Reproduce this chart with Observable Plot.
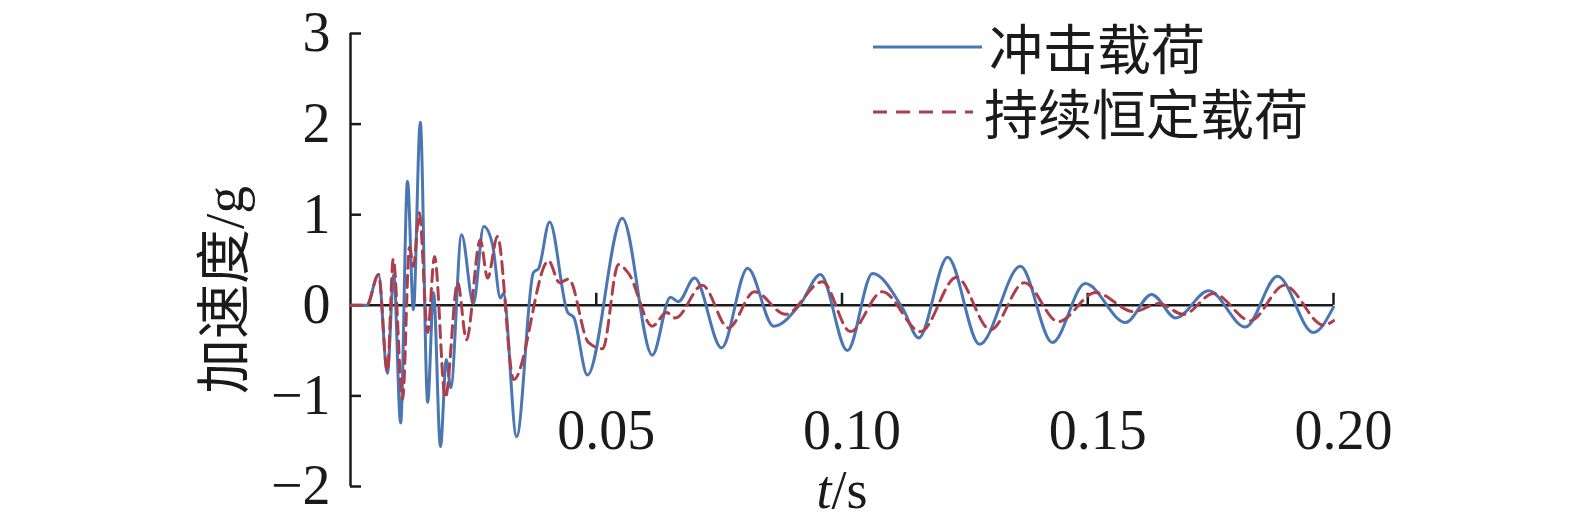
<!DOCTYPE html>
<html>
<head>
<meta charset="utf-8">
<script src="https://cdn.jsdelivr.net/npm/d3@7"></script>
<script src="https://cdn.jsdelivr.net/npm/@observablehq/plot@0.6"></script>
<style>
  body { margin: 0; background: #fff; }
  #wrap { position: relative; width: 1575px; height: 528px; overflow: hidden; }
  #legend { position: absolute; left: 873px; top: 14px; font-family: "Noto Sans CJK SC", sans-serif; font-size: 54px; color: #1a1a1a; }
  #legend .row { display: flex; align-items: center; height: 65px; }
  #legend .row span { line-height: 54px; display: block; }
  #legend svg { display: block; }
</style>
</head>
<body>
<div id="wrap"><div id="legend"></div></div>
<script>
// time (s) and acceleration (g) — 冲击载荷
const tImpact = [0, 0.0033, 0.0057, 0.0075, 0.0088, 0.0102, 0.0116, 0.0128, 0.0142, 0.0157, 0.0169, 0.0183, 0.0195, 0.0204, 0.0226, 0.0250, 0.0271, 0.0289, 0.0305, 0.0311, 0.0338, 0.0372, 0.0383, 0.0405, 0.0442, 0.0454, 0.0482, 0.0553, 0.0614, 0.0651, 0.0667, 0.0700, 0.0755, 0.0808, 0.0861, 0.0916, 0.0956, 0.1011, 0.1062, 0.1125, 0.1156, 0.1215, 0.1280, 0.1363, 0.1428, 0.1495, 0.1577, 0.1630, 0.1679, 0.1746, 0.1821, 0.1886, 0.1959, 0.2];
const vImpact = [0, 0, 0.34, -0.75, 0.34, -1.30, 1.37, -0.05, 2.02, -1.07, 0.14, -1.56, -0.60, -0.91, 0.78, 0.02, 0.87, 0.67, 0.08, 0.13, -1.45, 0.36, 0.41, 0.92, -0.08, -0.13, -0.77, 0.96, -0.55, 0.09, 0.04, 0.30, -0.47, 0.41, -0.23, 0.02, 0.34, -0.50, 0.35, -0.05, -0.36, 0.53, -0.43, 0.43, -0.41, 0.24, -0.19, 0.12, -0.14, 0.16, -0.24, 0.32, -0.30, -0.02];

// 持续恒定载荷
const tConst = [0, 0.0033, 0.0057, 0.0075, 0.0087, 0.0106, 0.0120, 0.0128, 0.0140, 0.0157, 0.0171, 0.0193, 0.0218, 0.0236, 0.0264, 0.0279, 0.0299, 0.0332, 0.0403, 0.0425, 0.0444, 0.0484, 0.0513, 0.0545, 0.0566, 0.0614, 0.0643, 0.0661, 0.0716, 0.0769, 0.0822, 0.0885, 0.0960, 0.1017, 0.1082, 0.1160, 0.1233, 0.1302, 0.1371, 0.1440, 0.1516, 0.1593, 0.1644, 0.1695, 0.1756, 0.1831, 0.1900, 0.1980, 0.2];
const vConst = [0, 0, 0.34, -0.73, 0.51, -1.04, 0.64, 0.43, 1.02, -0.30, 0.54, -1.02, 0.25, -0.38, 0.72, 0.30, 0.76, -0.82, 0.49, 0.25, 0.29, -0.41, -0.48, 0.45, 0.35, -0.23, -0.08, -0.14, 0.22, -0.25, 0.15, -0.10, 0.26, -0.29, 0.15, -0.29, 0.31, -0.27, 0.25, -0.18, 0.14, -0.07, 0.02, -0.10, 0.13, -0.17, 0.22, -0.22, -0.17];

const seriesNames = ["冲击载荷", "持续恒定载荷"];
const seriesColors = ["#4a76b4", "#ad3f4c"];
const xTicks = [0.05, 0.10, 0.15, 0.20];
const yTicks = [-2, -1, 0, 1, 2, 3];
const xLabel = "t/s";
const yLabel = "加速度/g";

const impact = tImpact.map((t, i) => ({t, v: vImpact[i]}));
const constant = tConst.map((t, i) => ({t, v: vConst[i]}));

const axisColor = "#1a1a1a";
const serif = "'Liberation Serif', 'Noto Sans CJK SC', serif";

const chart = Plot.plot({
  width: 1575,
  height: 528,
  marginLeft: 350,
  marginRight: 242,
  marginTop: 33,
  marginBottom: 42,
  x: {domain: [0, 0.2]},
  y: {domain: [-2, 3]},
  style: {fontFamily: serif, fontSize: "56px", color: axisColor, background: "white", overflow: "visible"},
  marks: [
    Plot.ruleX([0], {stroke: axisColor, strokeWidth: 2.5}),
    Plot.ruleY(yTicks, {y: d => d, x1: 0, x2: 0, insetRight: -11, stroke: axisColor, strokeWidth: 2.5}),
    Plot.ruleY([0], {stroke: axisColor, strokeWidth: 2.5}),
    Plot.ruleX(xTicks, {x: d => d, y1: 0, y2: 0, insetTop: -12, stroke: axisColor, strokeWidth: 2.5}),
    Plot.axisY(yTicks, {tickSize: 0, tickPadding: 20, label: null, fill: axisColor,
      tickFormat: d => d < 0 ? "\u2212" + Math.abs(d) : String(d)}),
    Plot.axisX(xTicks, {tickSize: 0, tickPadding: 0, dx: 10, dy: -77, label: null, fill: axisColor,
      tickFormat: d3.format(".2f")}),
    Plot.line(impact, {x: "t", y: "v", stroke: seriesColors[0], strokeWidth: 3, curve: "monotone-x"}),
    Plot.line(constant, {x: "t", y: "v", stroke: seriesColors[1], strokeWidth: 3, strokeDasharray: "12,7", curve: "monotone-x"}),
    Plot.text([yLabel], {text: d => d, frameAnchor: "left", textAnchor: "middle", rotate: -90, dx: -125, dy: 30, fontSize: 55, fill: axisColor}),
    Plot.text([xLabel], {text: d => d, frameAnchor: "bottom", dy: 21, fontSize: 54, fill: axisColor})
  ]
});

document.getElementById("wrap").prepend(chart);

// italic variable t in the x label
chart.querySelectorAll("text").forEach(el => {
  if (el.textContent === xLabel) {
    const [v, unit] = xLabel.split("/");
    el.textContent = "";
    const a = document.createElementNS("http://www.w3.org/2000/svg", "tspan");
    a.setAttribute("font-style", "italic");
    a.textContent = v;
    const b = document.createElementNS("http://www.w3.org/2000/svg", "tspan");
    b.textContent = "/" + unit;
    el.append(a, b);
  }
});

const legend = document.getElementById("legend");
seriesNames.forEach((name, i) => {
  const row = document.createElement("div");
  row.className = "row";
  const w = i === 0 ? 112 : 107;
  row.innerHTML = `<svg width="${w}" height="10"><line x1="0" y1="5" x2="${i === 0 ? 109 : 100}" y2="5" stroke="${seriesColors[i]}" stroke-width="3" ${i === 1 ? 'stroke-dasharray="14,9"' : ''}/></svg><span style="margin-left:4px">${name}</span>`;
  legend.append(row);
});
</script>
</body>
</html>
